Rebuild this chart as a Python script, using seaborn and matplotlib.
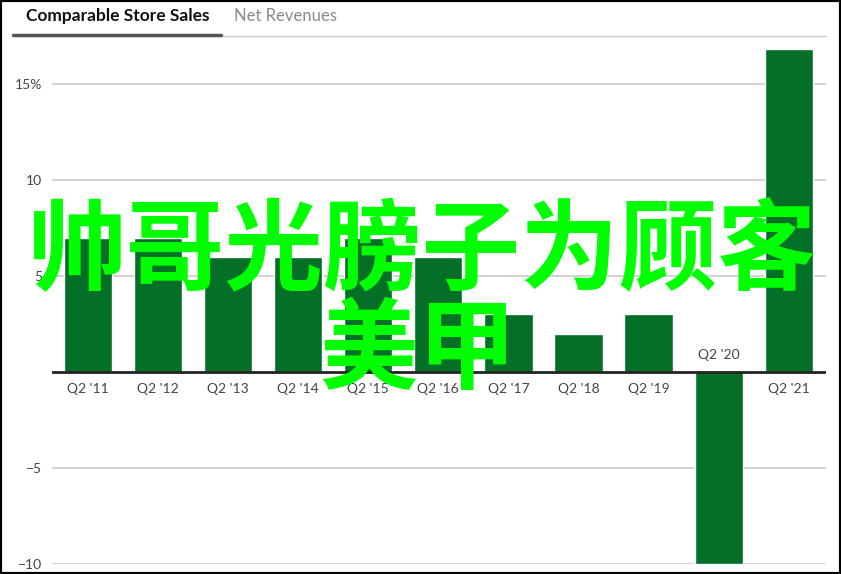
import matplotlib
matplotlib.use("Agg")
import matplotlib.pyplot as plt
import seaborn as sns
import pandas as pd
from matplotlib.lines import Line2D
from matplotlib.patches import Rectangle

# Comparable store sales growth, Q2 of each year (%)
quarters = ["Q2 '11", "Q2 '12", "Q2 '13", "Q2 '14", "Q2 '15", "Q2 '16",
            "Q2 '17", "Q2 '18", "Q2 '19", "Q2 '20", "Q2 '21"]
sales_growth = [7, 7, 6, 6, 7, 6, 3, 2, 3, -10, 16.8]
y_ticks = [-10, -5, 5, 10, 15]
y_tick_labels = ["\u221210", "\u22125", "5", "10", "15%"]
tabs = ["Comparable Store Sales", "Net Revenues"]
watermark = ["帅哥光膀子为顾客", "美甲"]

df = pd.DataFrame({"Quarter": quarters, "Growth": sales_growth})

sns.set_theme(style="white")
plt.rcParams['font.family'] = ['Lato', 'DejaVu Sans']

W, H = 841, 574
fig = plt.figure(figsize=(W / 100, H / 100), dpi=100)
ax = fig.add_axes([52 / W, 10 / H, (826 - 52) / W, (564 - 45.6) / H])

sns.barplot(data=df, x="Quarter", y="Growth", color="#036f27", saturation=1,
            width=0.69, ax=ax, zorder=3)

ax.set_xlim(-0.51, 10.53)
ax.set_ylim(-10, 17)
ax.set_yticks(y_ticks)
ax.set_yticklabels(y_tick_labels, fontsize=10, color="#444444")
ax.tick_params(axis="y", length=0, pad=7)
ax.set_xticks([])
ax.set_xlabel("")
ax.set_ylabel("")
for s in ax.spines.values():
    s.set_visible(False)
for t in y_ticks:
    ax.axhline(t, color="#cccccc", lw=1.2, zorder=1)
ax.axhline(0, color="#222222", lw=2, zorder=4)

# quarter labels sit just outside the bar's base
for i, (q, v) in enumerate(zip(quarters, sales_growth)):
    off = 17 if v < 0 else -17
    ax.annotate(q, (i, 0), xytext=(0, off), textcoords="offset pixels",
                ha="center", va="center", fontsize=10, color="#444444")

# tab header
fig.text(26 / W, 1 - 16 / H, tabs[0], fontsize=12.5, fontweight="bold",
         color="#111111", va="center", ha="left")
fig.text(234 / W, 1 - 16 / H, tabs[1], fontsize=12, color="#8a8a8a",
         va="center", ha="left")
fig.add_artist(Line2D([13 / W, 826 / W], [1 - 36 / H] * 2, color="#cccccc",
                      lw=1, transform=fig.transFigure))
fig.add_artist(Line2D([13 / W, 221 / W], [1 - 35 / H] * 2, color="#555555",
                      lw=2.5, transform=fig.transFigure))

# overlay text
fig.text(422 / W, 1 - 252 / H, watermark[0], fontsize=71, fontweight="bold",
         color="#00ff00", ha="center", va="center",
         family=["Noto Sans CJK SC", "DejaVu Sans"], zorder=10)
fig.text(418 / W, 1 - 352 / H, watermark[1], fontsize=71, fontweight="bold",
         color="#00ff00", ha="center", va="center",
         family=["Noto Sans CJK SC", "DejaVu Sans"], zorder=10)

fig.add_artist(Rectangle((0, 0), 1, 1, fill=False, edgecolor="black", lw=3,
                         transform=fig.transFigure))

fig.savefig("out.png", dpi=100)
